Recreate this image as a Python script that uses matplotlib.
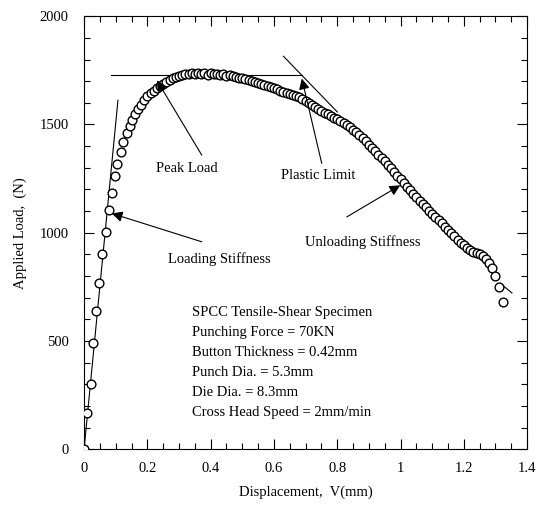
import matplotlib.pyplot as plt
from matplotlib.ticker import MultipleLocator

plt.rcParams['font.family'] = ['Liberation Serif', 'DejaVu Serif']
plt.rcParams['font.size'] = 10.5

disp = [0.0, 0.010, 0.021, 0.027, 0.037, 0.047, 0.058, 0.068, 0.079,
        0.087, 0.097, 0.105, 0.116, 0.124, 0.135, 0.144, 0.151, 0.160, 0.170,
        0.18, 0.19, 0.20, 0.21, 0.22, 0.23, 0.24, 0.25, 0.26, 0.27,
        0.28, 0.29, 0.30, 0.31, 0.32, 0.33, 0.34, 0.35, 0.36, 0.37,
        0.38, 0.39, 0.40, 0.41, 0.42, 0.43, 0.44, 0.45, 0.46, 0.47,
        0.48, 0.49, 0.50, 0.51, 0.52, 0.53, 0.54, 0.55, 0.56, 0.57,
        0.58, 0.59, 0.60, 0.61, 0.62, 0.63, 0.64, 0.65, 0.66, 0.67,
        0.68, 0.69, 0.70, 0.71, 0.72, 0.73, 0.74, 0.75, 0.76, 0.77,
        0.78, 0.79, 0.80, 0.81, 0.82, 0.83, 0.84, 0.85, 0.86, 0.87,
        0.88, 0.89, 0.90, 0.91, 0.92, 0.93, 0.94, 0.95, 0.96, 0.97,
        0.98, 0.99, 1.00, 1.01, 1.02, 1.03, 1.04, 1.05, 1.06, 1.07,
        1.08, 1.09, 1.10, 1.11, 1.12, 1.13, 1.14, 1.15, 1.16, 1.17,
        1.18, 1.19, 1.20, 1.21, 1.22, 1.23, 1.24, 1.25, 1.26, 1.27,
        1.28, 1.29, 1.30, 1.31, 1.323]
load = [0, 165, 300, 490, 640, 770, 900, 1005, 1105,
        1184, 1262, 1319, 1375, 1419, 1462, 1495, 1522, 1548, 1570,
        1592, 1612, 1630, 1644, 1656, 1667, 1678, 1688, 1697, 1705,
        1714, 1721, 1726, 1729, 1732, 1733, 1736, 1731, 1737, 1733,
        1738, 1730, 1736, 1732, 1734, 1729, 1731, 1726, 1727, 1722,
        1720, 1716, 1713, 1709, 1705, 1701, 1697, 1692, 1688, 1684,
        1679, 1674, 1668, 1662, 1656, 1650, 1645, 1641, 1637, 1632,
        1626, 1618, 1609, 1600, 1591, 1582, 1573, 1563, 1554, 1547,
        1540, 1532, 1524, 1516, 1506, 1496, 1486, 1476, 1464, 1451,
        1437, 1422, 1407, 1392, 1377, 1361, 1345, 1329, 1313, 1297,
        1280, 1263, 1246, 1229, 1212, 1196, 1179, 1163, 1147, 1132,
        1117, 1102, 1088, 1073, 1058, 1043, 1028, 1013, 998, 983,
        968, 954, 941, 930, 921, 913, 906, 900, 891, 878,
        862, 838, 800, 750, 680]

# tangent / reference lines
loading_x = [0.0, 0.107]
loading_y = [0, 1612]
peak_x = [0.085, 0.688]
peak_y = [1727, 1727]
plastic_x = [0.630, 0.800]
plastic_y = [1815, 1558]
unload_x = [1.315, 1.352]
unload_y = [766, 722]

xticks = [0, 0.2, 0.4, 0.6, 0.8, 1.0, 1.2, 1.4]
xticklabels = ['0', '0.2', '0.4', '0.6', '0.8', '1', '1.2', '1.4']
yticks = [0, 500, 1000, 1500, 2000]

info = ['SPCC Tensile-Shear Specimen',
        'Punching Force = 70KN',
        'Button Thickness = 0.42mm',
        'Punch Dia. = 5.3mm',
        'Die Dia. = 8.3mm',
        'Cross Head Speed = 2mm/min']

fig = plt.figure(figsize=(5.39, 5.07), dpi=100)
ax = fig.add_axes([0.156, 0.114, 0.822, 0.854])

ax.plot(disp, load, 'o', mfc='white', mec='black', ms=6.3, mew=1.0, zorder=3)
for lx, ly in [(loading_x, loading_y), (peak_x, peak_y),
               (plastic_x, plastic_y), (unload_x, unload_y)]:
    ax.plot(lx, ly, color='black', lw=0.8, zorder=2)

arrow = dict(arrowstyle='-|>', color='black', lw=0.8, mutation_scale=16,
             shrinkA=0, shrinkB=0)
ax.annotate('', xy=(0.230, 1704), xytext=(0.372, 1358), arrowprops=arrow, zorder=4)
ax.annotate('', xy=(0.688, 1712), xytext=(0.751, 1320), arrowprops=arrow, zorder=4)
ax.annotate('', xy=(0.0875, 1089), xytext=(0.372, 958), arrowprops=arrow, zorder=4)
ax.annotate('', xy=(0.999, 1219), xytext=(0.830, 1073), arrowprops=arrow, zorder=4)

ax.text(0.326, 1298, 'Peak Load', ha='center', va='center')
ax.text(0.740, 1266, 'Plastic Limit', ha='center', va='center')
ax.text(0.427, 878, 'Loading Stiffness', ha='center', va='center')
ax.text(0.879, 956, 'Unloading Stiffness', ha='center', va='center')
ax.text(0.341, 662, '\n'.join(info), ha='left', va='top', linespacing=1.7)

ax.set_xlim(0, 1.4)
ax.set_ylim(0, 2000)
ax.set_xticks(xticks)
ax.set_xticklabels(xticklabels)
ax.set_yticks(yticks)
ax.xaxis.set_minor_locator(MultipleLocator(0.05))
ax.yaxis.set_minor_locator(MultipleLocator(100))
ax.tick_params(which='both', direction='in', top=True, right=True, width=0.8)
ax.tick_params(which='major', length=7, pad=9)
ax.tick_params(which='minor', length=4)
ax.tick_params(axis='y', which='major', pad=11)
for s in ax.spines.values():
    s.set_linewidth(0.8)

ax.set_xlabel('Displacement,  V(mm)', labelpad=8)
ax.set_ylabel('Applied Load,  (N)', labelpad=9)

fig.savefig('out.png', dpi=100)
